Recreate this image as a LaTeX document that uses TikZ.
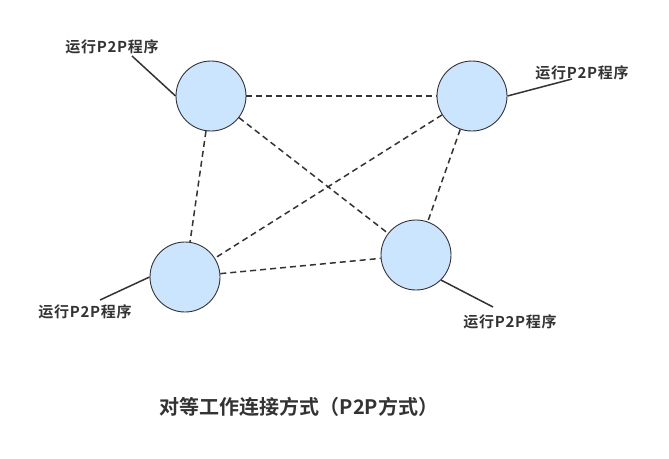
\documentclass[tikz,border=0pt]{standalone}
\usepackage{fontspec}
\newfontfamily\cjk{Noto Sans CJK SC}[BoldFont={* Bold}]
\definecolor{nodefill}{HTML}{CCE5FF}
\definecolor{edge}{HTML}{333333}
\definecolor{txt}{HTML}{333333}
\begin{document}
\begin{tikzpicture}[x=1pt,y=-1pt,
  peer/.style={circle,draw=edge,fill=nodefill,line width=0.9pt,minimum size=70pt,inner sep=0pt},
  link/.style={draw=edge,line width=1.5pt,dash pattern=on 6pt off 4pt},
  lead/.style={draw=edge,line width=1.5pt},
  lbl/.style={text=txt,font=\cjk\bfseries\fontsize{15}{17}\selectfont\addfontfeature{LetterSpace=5},inner sep=0pt},
  ttl/.style={text=txt,font=\cjk\bfseries\fontsize{20}{23}\selectfont,inner sep=0pt}]
\useasboundingbox (0,0) rectangle (669,458);
\node[peer] (A) at (211,96) {};
\node[peer] (B) at (472,96) {};
\node[peer] (C) at (185,277) {};
\node[peer] (D) at (416,255) {};
\draw[link] (A) -- (B);
\draw[link] (A) -- (D);
\draw[link] (A) -- (C);
\draw[link] (B) -- (C);
\draw[link] (B) -- (D);
\draw[link] (C) -- (D);
\node[lbl] (la) at (112,47) {运行P2P程序};
\node[lbl] (lb) at (582,73) {运行P2P程序};
\node[lbl] (lc) at (85,312) {运行P2P程序};
\node[lbl] (ld) at (510,322) {运行P2P程序};
\coordinate (pa) at (132,56);
\coordinate (pb) at (572,79);
\coordinate (pc) at (100,300);
\coordinate (pd) at (493,307);
\draw[lead] (pa) -- (A.west);
\draw[lead] (B.east) -- (pb);
\draw[lead] (C.west) -- (pc);
\draw[lead] (D.south east) -- (pd);
\node[ttl] (title) at (299,407) {对等工作连接方式（P2P方式）};
\end{tikzpicture}
\end{document}
